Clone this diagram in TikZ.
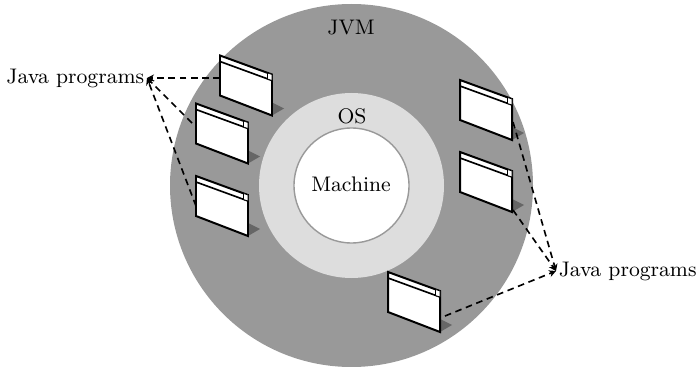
\documentclass[tikz,border=0pt]{standalone}
\usepackage{xcolor}
\usepackage{tikz}
\usetikzlibrary{arrows.meta}
\definecolor{jvmgray}{HTML}{999999}
\definecolor{osgray}{HTML}{DDDDDD}
\definecolor{shadowgray}{HTML}{666666}
\tikzset{
  winline/.style={draw=black,line width=0.85pt,line join=miter},
  dashlink/.style={line width=0.7pt,dash pattern=on 2.8pt off 2pt,-{Stealth[length=3pt,width=3pt]}},
  label/.style={inner sep=1pt,font=\fontsize{9}{11}\selectfont},
}
\begin{document}
\begin{tikzpicture}[x=0.015cm,y=-0.015cm]
  \useasboundingbox (0,0) rectangle (697,367);
  \fill[jvmgray] (351.5,185.5) circle (181.5);
  \fill[osgray] (351.5,185.5) circle (92.5);
  \draw[jvmgray,fill=white,line width=0.6pt] (351.5,185.5) circle (57.5);
  \node[label] (jvm) at (351,28) {JVM};
  \node[label] (os) at (352,116) {OS};
  \node[label] (machine) at (351,184) {Machine};
  \node[label,anchor=east] (progsleft) at (147,78) {Java programs};
  \node[label,anchor=west] (progsright) at (556,271) {Java programs};
  % program windows, given by their top left corner
  \foreach \name/\x/\y in {winA/220/55.5,winB/196/103.5,winC/196/176,winD/460/80,winE/460/152,winF/388/272}{
    \begin{scope}[shift={(\x,\y)}]
      \fill[shadowgray] (52,47) -- (64,53) -- (52,60) -- cycle;
      \draw[winline,fill=white] (0,0) -- (52,19) -- (52,60) -- (0,40) -- cycle;
      \draw[winline,line width=0.7pt] (0,6) -- (52,25);
      \draw[line width=0.3pt,fill=white] (47.5,17.5) -- (52,19) -- (52,25) -- (47.5,23.5) -- cycle;
    \end{scope}
  }
  \coordinate (endA) at (220,78);
  \coordinate (endB) at (192,123);
  \coordinate (endC) at (196,206);
  \coordinate (endD) at (513,122);
  \coordinate (endE) at (513,210);
  \coordinate (endF) at (445,316);
  \draw[dashlink] (endA) -- (progsleft.east);
  \draw[dashlink] (endB) -- (progsleft.east);
  \draw[dashlink] (endC) -- (progsleft.east);
  \draw[dashlink] (endD) -- (progsright.west);
  \draw[dashlink] (endE) -- (progsright.west);
  \draw[dashlink] (endF) -- (progsright.west);
\end{tikzpicture}
\end{document}
